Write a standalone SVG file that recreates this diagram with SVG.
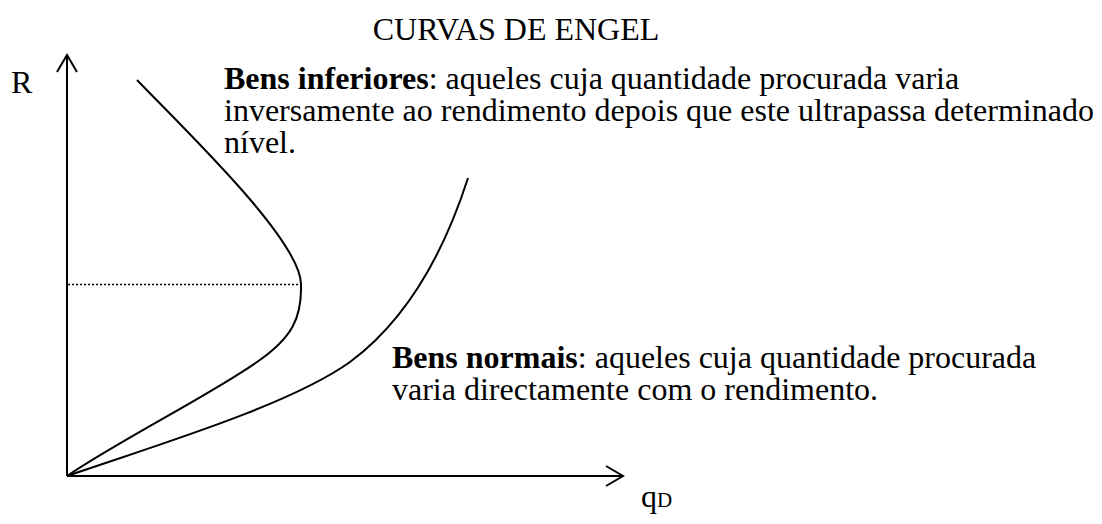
<svg xmlns="http://www.w3.org/2000/svg" width="1102" height="524" viewBox="0 0 1102 524">
<style>
text{font-family:"Liberation Serif","Times New Roman",serif;fill:#000;}
.t{font-size:32px;}
.b{font-weight:bold;}
.ln{fill:none;stroke:#000;stroke-width:2;}
.dot{fill:none;stroke:#000;stroke-width:1.5;stroke-dasharray:2 2;}
</style>
<rect width="1102" height="524" fill="#fff"/>
<g id="title"><text class="t" x="516" y="40" text-anchor="middle">CURVAS DE ENGEL</text></g>
<g id="axes">
<line class="ln" x1="67" y1="476" x2="67" y2="55"/>
<polyline class="ln" points="57,72 67,55 77,72"/>
<line class="ln" x1="67" y1="476" x2="623" y2="476"/>
<polyline class="ln" points="606,466 623,476 606,486"/>
<text class="t" x="11" y="93">R</text>
<text class="t" x="641" y="507">q<tspan font-size="21">D</tspan></text>
</g>
<g id="connectors">
<line class="dot" x1="68" y1="284.5" x2="301" y2="284.5"/>
<path class="ln" d="M137,80 C190,135 300,240 301,284 C302,318 292,338 257,362 C210,395 120,440 67,476"/>
<path class="ln" d="M67,476 C160,444 290,405 350,362 C400,325 440,265 468,178"/>
</g>
<g id="inferiores">
<text class="t" x="224" y="89"><tspan class="b">Bens inferiores</tspan>: aqueles cuja quantidade procurada varia</text>
<text class="t" x="224" y="121">inversamente ao rendimento depois que este ultrapassa determinado</text>
<text class="t" x="224" y="153">nível.</text>
</g>
<g id="normais">
<text class="t" x="392" y="368"><tspan class="b">Bens normais</tspan>: aqueles cuja quantidade procurada</text>
<text class="t" x="392" y="400">varia directamente com o rendimento.</text>
</g>
</svg>
